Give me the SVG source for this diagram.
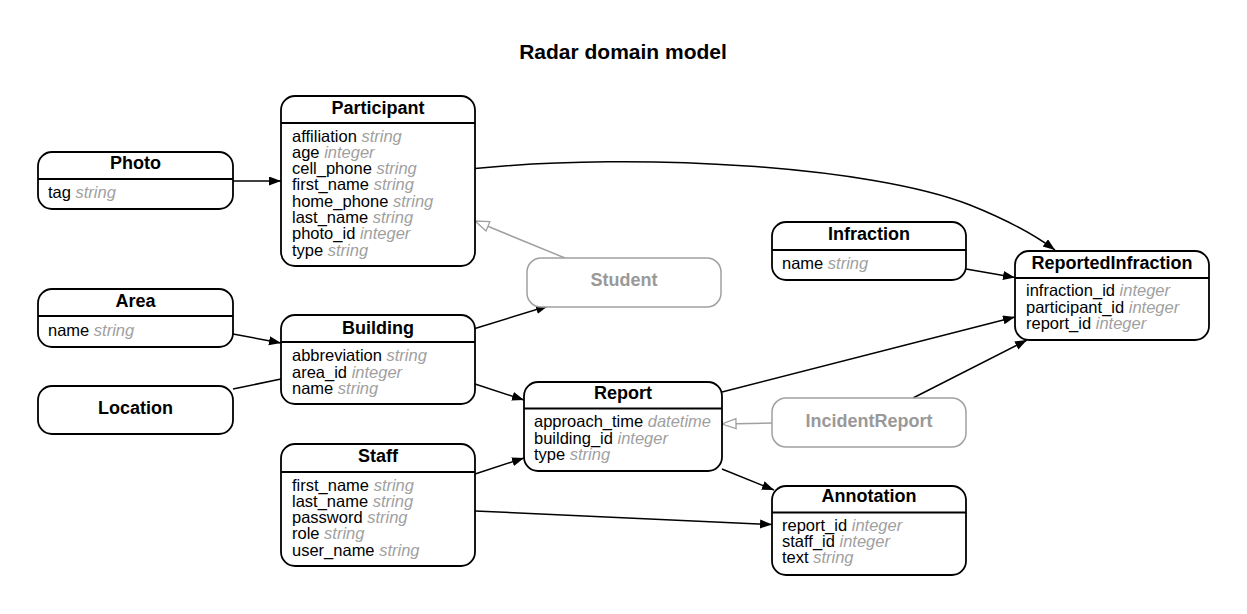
<svg xmlns="http://www.w3.org/2000/svg" width="1247" height="614" viewBox="0 0 1247 614">
<style>
text{font-family:"Liberation Sans",Arial,sans-serif;}
.title{font-size:21px;font-weight:bold;text-anchor:middle;fill:#000;}
.box{fill:#fff;stroke:#000;stroke-width:1.8;}
.gbox{fill:#fff;stroke:#a0a0a0;stroke-width:1.5;}
.sep{stroke:#000;stroke-width:1.8;}
.nm{font-size:18px;font-weight:bold;text-anchor:middle;fill:#000;}
.gnm{font-size:18px;font-weight:bold;text-anchor:middle;fill:#999;}
.fld{font-size:16.5px;fill:#000;}
.ty{fill:#a0a0a0;font-style:italic;}
.e{fill:none;stroke:#000;stroke-width:1.5;}
.g{fill:none;stroke:#a0a0a0;stroke-width:1.5;}
</style>
<defs>
<marker id="ah" markerUnits="userSpaceOnUse" markerWidth="14" markerHeight="10" refX="12" refY="4.5" orient="auto">
<path d="M0,0 L12,4.5 L0,9 z" fill="#000"/>
</marker>
<marker id="hol" markerUnits="userSpaceOnUse" markerWidth="18" markerHeight="14" refX="15" refY="6" orient="auto">
<path d="M1,1 L15,6 L1,11 z" fill="#fff" stroke="#a0a0a0" stroke-width="1.3"/>
</marker>
</defs>
<rect width="1247" height="614" fill="#fff"/>
<text class="title" x="623" y="59">Radar domain model</text>

<g id="connectors">
<path class="e" d="M233,181 L281,181" marker-end="url(#ah)"/>
<path class="e" d="M475,168.5 C640,152 870,166 970,205 C1005,219 1032,233 1055,250" marker-end="url(#ah)"/>
<path class="g" d="M565,258 L475,221" marker-end="url(#hol)"/>
<path class="e" d="M475,328.5 L548,306" marker-end="url(#ah)"/>
<path class="e" d="M233,334 L281,343" marker-end="url(#ah)"/>
<path class="e" d="M233,389 L281,379"/>
<path class="e" d="M475,384 L524,400" marker-end="url(#ah)"/>
<path class="e" d="M475,474 L524,458" marker-end="url(#ah)"/>
<path class="e" d="M475,511 L772,524.5" marker-end="url(#ah)"/>
<path class="e" d="M722,469 L774,490" marker-end="url(#ah)"/>
<path class="e" d="M722,392 L1015,317" marker-end="url(#ah)"/>
<path class="e" d="M913,398 L1027,340" marker-end="url(#ah)"/>
<path class="g" d="M772,423 L722,424" marker-end="url(#hol)"/>
<path class="e" d="M966,269 L1015,277.5" marker-end="url(#ah)"/>
</g>

<g id="Photo">
<rect class="box" x="38" y="152" width="195" height="57" rx="14"/>
<line class="sep" x1="38" y1="179" x2="233" y2="179"/>
<text class="nm" x="135.5" y="169">Photo</text>
<text class="fld" x="48" y="198">tag <tspan class="ty">string</tspan></text>
</g>

<g id="Participant">
<rect class="box" x="281" y="96" width="194" height="170" rx="14"/>
<line class="sep" x1="281" y1="123" x2="475" y2="123"/>
<text class="nm" x="378" y="113.5">Participant</text>
<text class="fld" x="292" y="141.5">affiliation <tspan class="ty">string</tspan></text>
<text class="fld" x="292" y="157.8">age <tspan class="ty">integer</tspan></text>
<text class="fld" x="292" y="174.1">cell_phone <tspan class="ty">string</tspan></text>
<text class="fld" x="292" y="190.4">first_name <tspan class="ty">string</tspan></text>
<text class="fld" x="292" y="206.7">home_phone <tspan class="ty">string</tspan></text>
<text class="fld" x="292" y="223">last_name <tspan class="ty">string</tspan></text>
<text class="fld" x="292" y="239.3">photo_id <tspan class="ty">integer</tspan></text>
<text class="fld" x="292" y="255.6">type <tspan class="ty">string</tspan></text>
</g>

<g id="Area">
<rect class="box" x="38" y="289" width="195" height="58" rx="14"/>
<line class="sep" x1="38" y1="316" x2="233" y2="316"/>
<text class="nm" x="135.5" y="306.5">Area</text>
<text class="fld" x="48" y="336">name <tspan class="ty">string</tspan></text>
</g>

<g id="Location">
<rect class="box" x="38" y="386" width="195" height="48" rx="14"/>
<text class="nm" x="135.5" y="414">Location</text>
</g>

<g id="Building">
<rect class="box" x="281" y="315" width="194" height="89" rx="14"/>
<line class="sep" x1="281" y1="342" x2="475" y2="342"/>
<text class="nm" x="378" y="333.5">Building</text>
<text class="fld" x="292" y="361">abbreviation <tspan class="ty">string</tspan></text>
<text class="fld" x="292" y="377.5">area_id <tspan class="ty">integer</tspan></text>
<text class="fld" x="292" y="394">name <tspan class="ty">string</tspan></text>
</g>

<g id="Staff">
<rect class="box" x="281" y="444" width="194" height="122" rx="14"/>
<line class="sep" x1="281" y1="472" x2="475" y2="472"/>
<text class="nm" x="378" y="462">Staff</text>
<text class="fld" x="292" y="490.5">first_name <tspan class="ty">string</tspan></text>
<text class="fld" x="292" y="506.8">last_name <tspan class="ty">string</tspan></text>
<text class="fld" x="292" y="523.1">password <tspan class="ty">string</tspan></text>
<text class="fld" x="292" y="539.4">role <tspan class="ty">string</tspan></text>
<text class="fld" x="292" y="555.7">user_name <tspan class="ty">string</tspan></text>
</g>

<g id="Student">
<rect class="gbox" x="527" y="258" width="194" height="49" rx="14"/>
<text class="gnm" x="624" y="286">Student</text>
</g>

<g id="Report">
<rect class="box" x="524" y="382" width="198" height="89" rx="14"/>
<line class="sep" x1="524" y1="408.5" x2="722" y2="408.5"/>
<text class="nm" x="623" y="398.5">Report</text>
<text class="fld" x="534" y="427.3">approach_time <tspan class="ty">datetime</tspan></text>
<text class="fld" x="534" y="443.5">building_id <tspan class="ty">integer</tspan></text>
<text class="fld" x="534" y="459.7">type <tspan class="ty">string</tspan></text>
</g>

<g id="IncidentReport">
<rect class="gbox" x="772" y="398" width="194" height="49" rx="14"/>
<text class="gnm" x="869" y="427">IncidentReport</text>
</g>

<g id="Infraction">
<rect class="box" x="772" y="222" width="194" height="58" rx="14"/>
<line class="sep" x1="772" y1="250" x2="966" y2="250"/>
<text class="nm" x="869" y="240">Infraction</text>
<text class="fld" x="782" y="268.5">name <tspan class="ty">string</tspan></text>
</g>

<g id="ReportedInfraction">
<rect class="box" x="1015" y="251" width="194" height="89" rx="14"/>
<line class="sep" x1="1015" y1="278" x2="1209" y2="278"/>
<text class="nm" x="1112" y="268.5">ReportedInfraction</text>
<text class="fld" x="1026" y="296.3">infraction_id <tspan class="ty">integer</tspan></text>
<text class="fld" x="1026" y="312.6">participant_id <tspan class="ty">integer</tspan></text>
<text class="fld" x="1026" y="328.9">report_id <tspan class="ty">integer</tspan></text>
</g>

<g id="Annotation">
<rect class="box" x="772" y="486" width="194" height="89" rx="14"/>
<line class="sep" x1="772" y1="512.5" x2="966" y2="512.5"/>
<text class="nm" x="869" y="502">Annotation</text>
<text class="fld" x="782" y="530.7">report_id <tspan class="ty">integer</tspan></text>
<text class="fld" x="782" y="547">staff_id <tspan class="ty">integer</tspan></text>
<text class="fld" x="782" y="563.3">text <tspan class="ty">string</tspan></text>
</g>
</svg>
